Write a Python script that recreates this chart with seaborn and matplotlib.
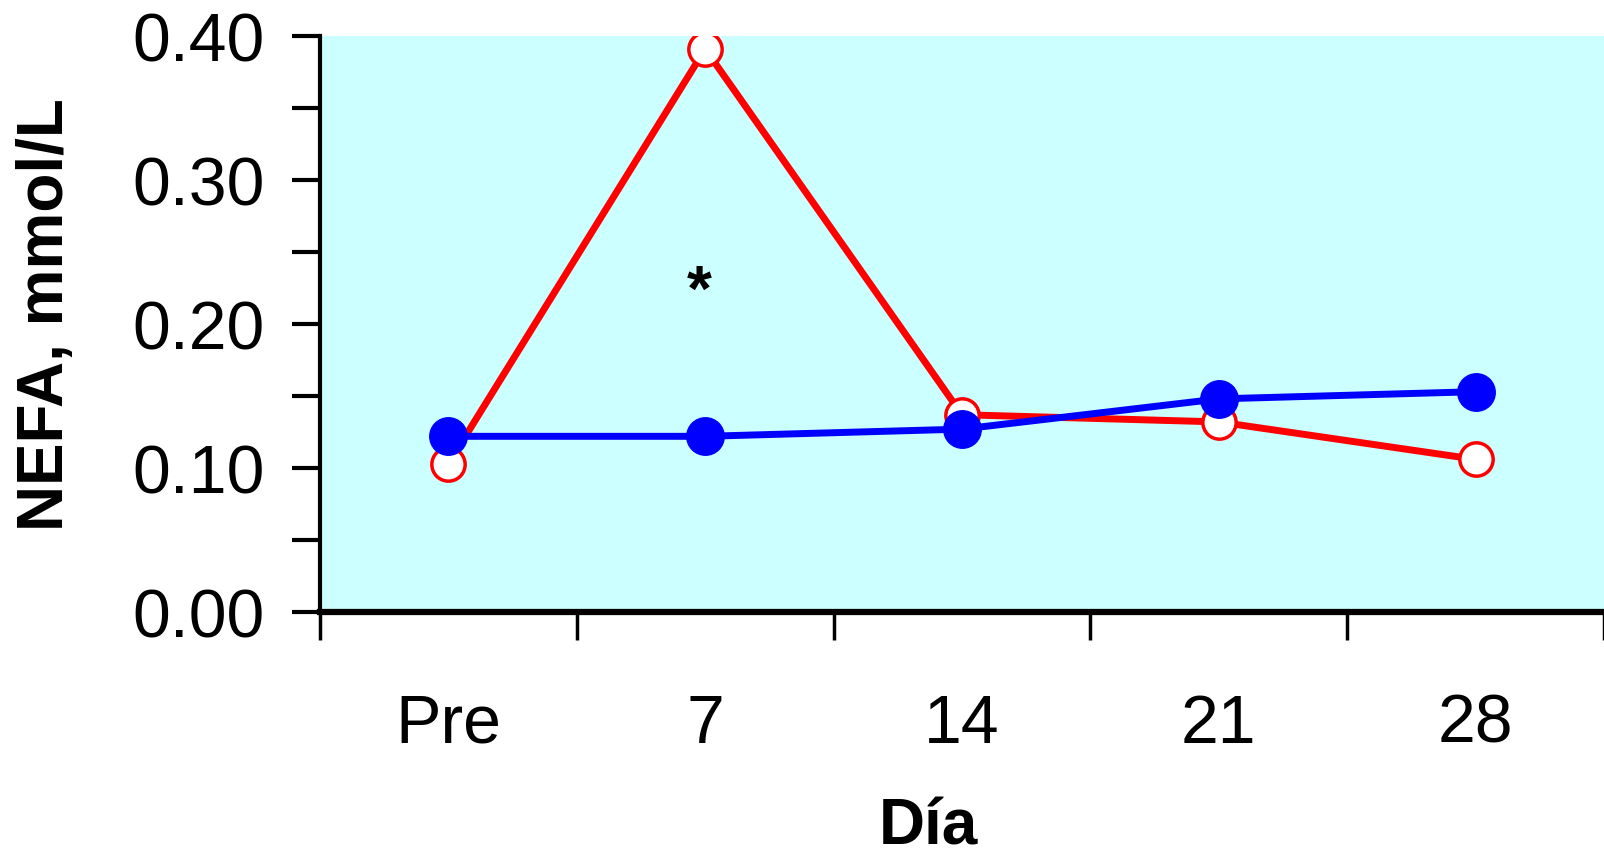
import matplotlib
matplotlib.use("Agg")
import matplotlib.pyplot as plt
import seaborn as sns
import pandas as pd
from matplotlib.ticker import MultipleLocator

days = ["Pre", "7", "14", "21", "28"]
nefa_red = [0.103, 0.391, 0.137, 0.132, 0.106]
nefa_blue = [0.122, 0.122, 0.127, 0.148, 0.153]
star_day = "7"
star_value = 0.23

sns.set_theme(style="white")
plt.rcParams["font.family"] = ["Liberation Sans", "DejaVu Sans"]
plt.rcParams["text.color"] = "black"
plt.rcParams["xtick.color"] = "black"
plt.rcParams["ytick.color"] = "black"
plt.rcParams["axes.labelcolor"] = "black"

df_red = pd.DataFrame({"Día": days, "NEFA": nefa_red})
df_blue = pd.DataFrame({"Día": days, "NEFA": nefa_blue})

fig = plt.figure(figsize=(16.04, 8.55), dpi=100)
ax = fig.add_axes([320 / 1604, 1 - 612 / 855, (1604 - 320) / 1604, (612 - 36) / 855])
ax.set_facecolor("#CCFFFF")

sns.lineplot(data=df_red, x="Día", y="NEFA", sort=False, ax=ax, color="#FF0000",
             linewidth=5, marker="o", markersize=24, markerfacecolor="white",
             markeredgecolor="#FF0000", markeredgewidth=2.5, zorder=3)
sns.lineplot(data=df_blue, x="Día", y="NEFA", sort=False, ax=ax, color="#0000FF",
             linewidth=5, marker="o", markersize=27, markerfacecolor="#0000FF",
             markeredgecolor="#0000FF", markeredgewidth=1, zorder=4)

# significance mark for day 7; the glyph sits high in its box, so nudge it down
ax.annotate("*", xy=(days.index(star_day) - 0.025, star_value),
            xytext=(0, -9), textcoords="offset points",
            ha="center", va="center", fontsize=46, fontweight="bold", color="black")

ax.set_ylim(0, 0.40)
ax.set_xlim(-0.5, 4.49)
ax.yaxis.set_major_locator(MultipleLocator(0.1))
ax.yaxis.set_minor_locator(MultipleLocator(0.05))
ax.set_yticklabels([f"{v:.2f}" for v in ax.get_yticks()])

ax.set_xticks(range(len(days)))
ax.set_xticklabels(days)
ax.set_xticks([i - 0.5 for i in range(len(days) + 1)], minor=True)
ax.tick_params(axis="x", which="major", length=0, pad=58, labelsize=49,
               labelcolor="black")
ax.tick_params(axis="x", which="minor", length=20, width=2.5, direction="out",
               color="black", bottom=True)
ax.tick_params(axis="y", which="both", length=20, width=3, direction="out",
               color="black", left=True, labelsize=49, pad=20, labelcolor="black")

for s in ["top", "right"]:
    ax.spines[s].set_visible(False)
ax.spines["left"].set_linewidth(3)
ax.spines["left"].set_color("black")
ax.spines["bottom"].set_linewidth(4.5)
ax.spines["bottom"].set_color("black")

ax.set_xlabel("")
ax.set_ylabel("")
fig.text(928 / 1604, 1 - 827 / 855, "Día", ha="center", va="center",
         fontsize=46, fontweight="bold", color="black")
fig.text(46 / 1604, 1 - 315 / 855, "NEFA, mmol/L", ha="center", va="center",
         rotation=90, fontsize=46, fontweight="bold", color="black")

fig.savefig("out.png", dpi=100, facecolor="white")
